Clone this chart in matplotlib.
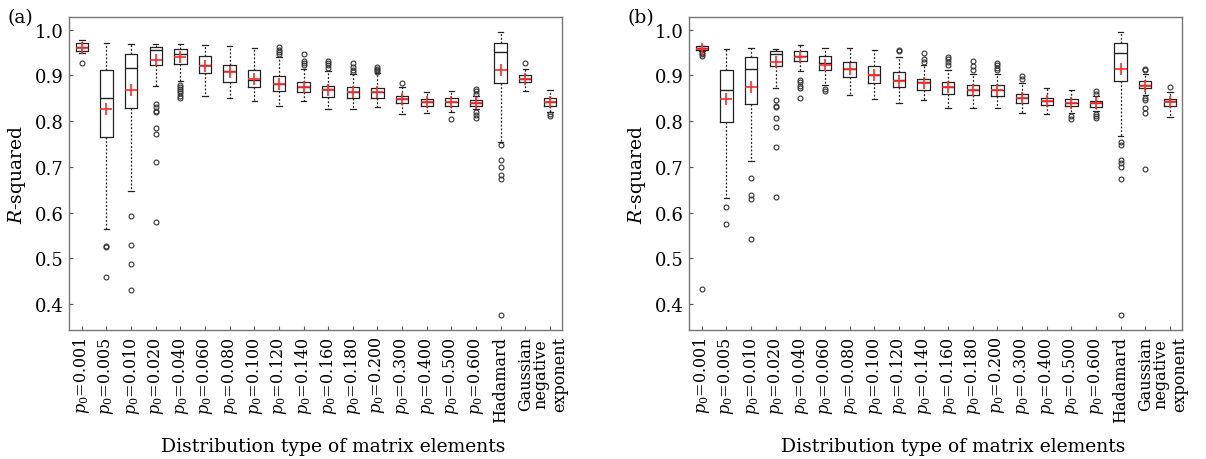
import matplotlib
matplotlib.use("Agg")
import matplotlib.pyplot as plt
import matplotlib.transforms as mtransforms

plt.rcParams['font.family'] = ['DejaVu Serif']
plt.rcParams['mathtext.fontset'] = 'dejavuserif'

# categories
p0_values = ["0.001", "0.005", "0.010", "0.020", "0.040", "0.060", "0.080", "0.100", "0.120",
             "0.140", "0.160", "0.180", "0.200", "0.300", "0.400", "0.500", "0.600"]
labels = [r"$p_0$=" + v for v in p0_values] + ["Hadamard", "Gaussian", "negative\nexponent"]

# panel (a)
med_a = [0.963, 0.851, 0.916, 0.955, 0.947, 0.922, 0.910, 0.891, 0.882, 0.875,
         0.871, 0.863, 0.863, 0.849, 0.842, 0.842, 0.840, 0.951, 0.893, 0.843]
q1_a = [0.954, 0.765, 0.828, 0.924, 0.926, 0.906, 0.885, 0.874, 0.867, 0.864,
        0.854, 0.851, 0.851, 0.839, 0.834, 0.833, 0.834, 0.884, 0.885, 0.834]
q3_a = [0.970, 0.913, 0.947, 0.963, 0.957, 0.942, 0.924, 0.912, 0.899, 0.886,
        0.877, 0.874, 0.872, 0.856, 0.848, 0.850, 0.847, 0.972, 0.900, 0.850]
lo_a = [0.950, 0.564, 0.648, 0.877, 0.889, 0.856, 0.850, 0.844, 0.834, 0.844,
        0.827, 0.827, 0.831, 0.816, 0.818, 0.820, 0.826, 0.755, 0.867, 0.821]
hi_a = [0.978, 0.970, 0.969, 0.969, 0.969, 0.967, 0.964, 0.961, 0.940, 0.914,
        0.909, 0.903, 0.905, 0.874, 0.863, 0.867, 0.855, 0.996, 0.914, 0.869]
mean_a = [0.961, 0.827, 0.869, 0.933, 0.940, 0.921, 0.907, 0.893, 0.882, 0.875,
          0.869, 0.864, 0.863, 0.849, 0.842, 0.842, 0.840, 0.912, 0.893, 0.843]
fliers_a = [[0.927], [0.527, 0.525, 0.460], [0.593, 0.529, 0.487, 0.431],
            [0.838, 0.831, 0.823, 0.821, 0.785, 0.772, 0.710, 0.579],
            [0.880, 0.875, 0.870, 0.866, 0.861, 0.856, 0.851], [], [], [],
            [0.962, 0.956, 0.952, 0.947], [0.946, 0.931, 0.927, 0.922],
            [0.932, 0.927, 0.922, 0.917], [0.927, 0.918, 0.912, 0.908],
            [0.918, 0.914, 0.911, 0.908], [0.884], [], [0.804],
            [0.871, 0.865, 0.860, 0.820, 0.814, 0.808],
            [0.747, 0.715, 0.700, 0.683, 0.673, 0.377], [0.927], [0.816, 0.811]]

# panel (b)
med_b = [0.960, 0.868, 0.914, 0.948, 0.943, 0.927, 0.915, 0.902, 0.891, 0.885,
         0.875, 0.868, 0.868, 0.851, 0.844, 0.840, 0.839, 0.949, 0.880, 0.844]
q1_b = [0.956, 0.799, 0.838, 0.920, 0.931, 0.913, 0.896, 0.884, 0.875, 0.869,
        0.860, 0.858, 0.855, 0.840, 0.836, 0.833, 0.831, 0.889, 0.873, 0.834]
q3_b = [0.964, 0.913, 0.940, 0.954, 0.953, 0.942, 0.929, 0.920, 0.907, 0.893,
        0.886, 0.880, 0.880, 0.860, 0.851, 0.849, 0.845, 0.972, 0.887, 0.849]
lo_b = [0.953, 0.633, 0.712, 0.873, 0.909, 0.880, 0.858, 0.849, 0.840, 0.847,
        0.829, 0.829, 0.829, 0.818, 0.815, 0.818, 0.822, 0.767, 0.858, 0.809]
hi_b = [0.965, 0.958, 0.960, 0.958, 0.966, 0.961, 0.959, 0.956, 0.940, 0.924,
        0.913, 0.904, 0.904, 0.884, 0.873, 0.869, 0.855, 0.994, 0.904, 0.863]
mean_b = [0.958, 0.849, 0.875, 0.929, 0.940, 0.924, 0.915, 0.902, 0.889, 0.884,
          0.875, 0.869, 0.869, 0.851, 0.844, 0.839, 0.839, 0.914, 0.878, 0.842]
fliers_b = [[0.950, 0.946, 0.942, 0.433], [0.612, 0.575],
            [0.676, 0.638, 0.629, 0.542],
            [0.847, 0.834, 0.831, 0.807, 0.788, 0.744, 0.635],
            [0.891, 0.885, 0.878, 0.873, 0.851], [0.871, 0.867], [], [],
            [0.956, 0.953], [0.949, 0.935, 0.929],
            [0.940, 0.935, 0.929, 0.923], [0.932, 0.920, 0.911],
            [0.927, 0.922, 0.916, 0.913], [0.898, 0.892], [], [0.811, 0.804],
            [0.865, 0.860, 0.815, 0.811, 0.807],
            [0.754, 0.747, 0.716, 0.709, 0.700, 0.673, 0.376],
            [0.915, 0.911, 0.851, 0.847, 0.829, 0.818, 0.695], [0.874]]


def make_stats(med, q1, q3, lo, hi, mean, fliers):
    stats = []
    for i in range(len(med)):
        stats.append(dict(med=med[i], q1=q1[i], q3=q3[i], whislo=lo[i], whishi=hi[i],
                          mean=mean[i], fliers=fliers[i]))
    return stats


def draw_panel(fig, ax, stats, tag):
    ax.bxp(stats, positions=range(1, len(stats) + 1), widths=0.5, capwidths=0.22,
           showmeans=True, patch_artist=False,
           boxprops=dict(color='#222222', linewidth=0.9),
           medianprops=dict(color='#222222', linewidth=1.0),
           whiskerprops=dict(color='#222222', linewidth=0.9, linestyle=(0, (1.5, 1.5))),
           capprops=dict(color='#222222', linewidth=0.9),
           flierprops=dict(marker='o', markersize=3.5, markerfacecolor='none',
                           markeredgecolor='#333333', markeredgewidth=0.8),
           meanprops=dict(marker='+', markersize=9, markeredgecolor='#ff2a2a',
                          markeredgewidth=1.2))
    ax.set_xlim(0.48, 20.5)
    ax.set_ylim(0.343, 1.028)
    ax.set_yticks([0.4, 0.5, 0.6, 0.7, 0.8, 0.9, 1.0])
    ax.set_yticklabels(["0.4", "0.5", "0.6", "0.7", "0.8", "0.9", "1.0"], fontsize=13)
    ax.set_xticks(range(1, len(labels) + 1))
    ax.set_xticklabels(labels, rotation=90, fontsize=11.5, linespacing=1.15)
    # last label sits a bit right of its tick in the original
    last = ax.get_xticklabels()[-1]
    shift = mtransforms.ScaledTranslation(9 / 100, 0, fig.dpi_scale_trans)
    last.set_transform(last.get_transform() + shift)
    ax.tick_params(direction='in', length=3, width=0.8, color='#555555', pad=4)
    for s in ax.spines.values():
        s.set_color('#777777')
        s.set_linewidth(1.0)
    ax.set_ylabel(r"$R$-squared", fontsize=13.5)
    ax.yaxis.set_label_coords(-0.083, 0.5)
    ax.set_xlabel("Distribution type of matrix elements", fontsize=13.5)
    ax.xaxis.set_label_coords(0.536, -0.34)
    ax.text(-0.125, 1.0, tag, transform=ax.transAxes, fontsize=13.5, va='center', ha='left')


fig = plt.figure(figsize=(12.06, 4.6), dpi=100)
ax_a = fig.add_axes([0.0572, 0.28, 0.409, 0.681])
ax_b = fig.add_axes([0.5713, 0.28, 0.409, 0.681])

draw_panel(fig, ax_a, make_stats(med_a, q1_a, q3_a, lo_a, hi_a, mean_a, fliers_a), "(a)")
draw_panel(fig, ax_b, make_stats(med_b, q1_b, q3_b, lo_b, hi_b, mean_b, fliers_b), "(b)")

fig.savefig("out.png", dpi=100)
